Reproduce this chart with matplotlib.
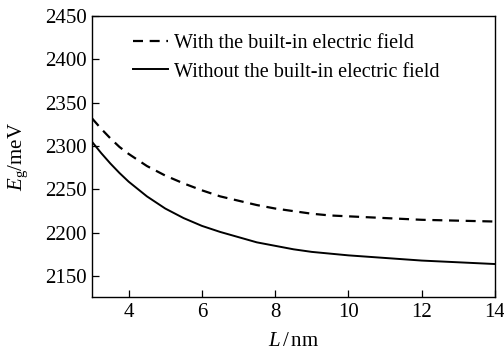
import matplotlib
matplotlib.use("Agg")
import matplotlib.pyplot as plt

# ---------------------------------------------------------
# band gap vs well width, with / without built-in field
# ---------------------------------------------------------

L_NM = [3.0, 3.25, 3.5, 3.75, 4.0, 4.5, 5.0, 5.5, 6.0, 6.5, 7.0, 7.5, 8.0, 8.5, 9.0,
        9.5, 10.0, 11.0, 12.0, 13.0, 14.0]
EG_WITH = [2332, 2320, 2309, 2299, 2291, 2277, 2266, 2257, 2249, 2242, 2237, 2232, 2228,
           2225, 2222, 2220, 2219, 2217, 2215, 2214, 2213]
EG_WITHOUT = [2305, 2292, 2280, 2269, 2259, 2242, 2228, 2217, 2208, 2201, 2195, 2189, 2185,
              2181, 2178, 2176, 2174, 2171, 2168, 2166, 2164]

LABEL_WITH = "With the built-in electric field"
LABEL_WITHOUT = "Without the built-in electric field"

X_TICKS = [4, 6, 8, 10, 12, 14]
Y_TICKS = [2150, 2200, 2250, 2300, 2350, 2400, 2450]

plt.rcParams["font.family"] = "Liberation Serif"
plt.rcParams["mathtext.fontset"] = "custom"
plt.rcParams["mathtext.rm"] = "Liberation Serif"
plt.rcParams["mathtext.it"] = "Liberation Serif:italic"


def main():
    fig = plt.figure(figsize=(5.04, 3.55), dpi=100)
    ax = fig.add_axes([0.1825, 0.1634, 0.7995, 0.7916])

    ax.plot(L_NM, EG_WITH, color="black", linestyle=(0, (4.5, 3)), linewidth=1.6,
            label=LABEL_WITH)
    ax.plot(L_NM, EG_WITHOUT, color="black", linestyle="-", linewidth=1.4,
            label=LABEL_WITHOUT)

    ax.set_xlim(3, 14)
    ax.set_ylim(2126, 2450)
    ax.set_xticks(X_TICKS)
    ax.set_yticks(Y_TICKS)
    ax.tick_params(direction="in", length=5, width=0.9, labelsize=15, pad=4)
    for s in ax.spines.values():
        s.set_linewidth(1.0)

    ax.set_xlabel(r"$L\,$/$\,$nm", fontsize=15)
    ax.set_ylabel(r"$E_\mathrm{g}$/meV", fontsize=15)
    ax.xaxis.set_label_coords(0.5, -0.125)
    ax.yaxis.set_label_coords(-0.155, 0.5)

    ax.legend(loc="upper left", bbox_to_anchor=(0.068, 0.985), frameon=False,
              fontsize=14.5, handlelength=1.7, handletextpad=0.3,
              labelspacing=0.45, borderaxespad=0.3)

    fig.savefig("out.png", dpi=100)
    plt.close(fig)


if __name__ == "__main__":
    main()
